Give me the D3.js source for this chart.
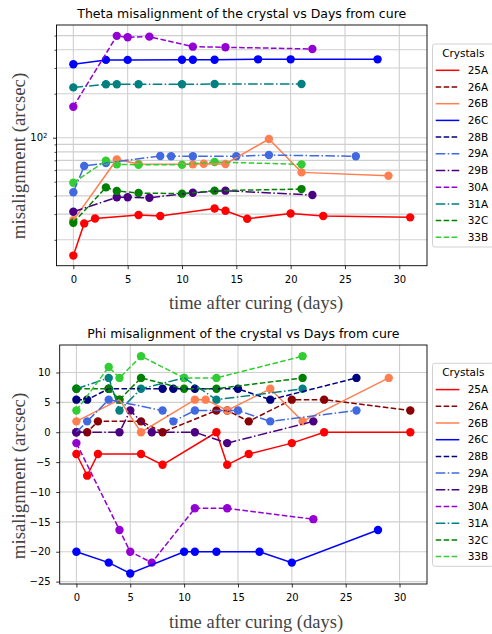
<!DOCTYPE html>
<html>
<head>
<meta charset="utf-8">
<script src="https://cdn.jsdelivr.net/npm/d3@7"></script>
<style>
body { margin: 0; background: #fff; }
svg { display: block; }
</style>
</head>
<body>
<svg id="chart" width="492" height="634"></svg>
<script>
// crystal names, in plotting / legend order
var crystals = ["25A", "26A", "26B", "26C", "28B", "29A", "29B", "30A", "31A", "32C", "33B"];

// theta misalignment (arcsec)
var thetaDays = [
  [0, 1, 2, 6, 8, 13, 14, 16, 20, 23, 31],
  [],
  [0, 4, 6, 11, 12, 14, 18, 21, 29],
  [0, 3, 5, 10, 11, 13, 17, 20, 28],
  [],
  [0, 1, 3, 8, 9, 11, 15, 18, 26],
  [0, 4, 5, 7, 11, 14, 22],
  [0, 4, 5, 7, 11, 14, 22],
  [0, 3, 4, 6, 10, 13, 21],
  [0, 3, 4, 6, 10, 13, 21],
  [0, 3, 4, 6, 10, 13, 21]
];
var thetaValues = [
  [15.6, 25.9, 28.0, 29.6, 29.1, 32.8, 31.6, 27.9, 30.3, 29.1, 28.5],
  [],
  [27.2, 71.0, 66.0, 65.7, 66.4, 66.1, 98.0, 57.9, 54.9],
  [318, 341, 341, 342, 342, 342, 344, 344, 344],
  [],
  [42.3, 64.0, 67.1, 75.0, 74.6, 74.6, 74.6, 76.1, 74.6],
  [31.1, 39.1, 39.1, 38.8, 42.0, 43.4, 40.5],
  [163, 498, 487, 492, 420, 416, 405],
  [221, 232, 232, 232, 232, 233, 233],
  [26.2, 45.7, 43.2, 41.8, 41.4, 43.4, 44.5],
  [49.2, 69.6, 65.7, 65.3, 65.3, 68.2, 65.7]
];

// phi misalignment (arcsec)
var phiDays = [
  [0, 1, 2, 6, 8, 13, 14, 16, 20, 23, 31],
  [0, 1, 2, 6, 8, 13, 14, 16, 20, 23, 31],
  [0, 4, 6, 11, 12, 14, 18, 21, 29],
  [0, 3, 5, 10, 11, 13, 17, 20, 28],
  [0, 1, 3, 8, 9, 11, 15, 18, 26],
  [0, 1, 3, 8, 9, 11, 15, 18, 26],
  [0, 4, 5, 7, 11, 14, 22],
  [0, 4, 5, 7, 11, 14, 22],
  [0, 3, 4, 6, 10, 13, 21],
  [0, 3, 4, 6, 10, 13, 21],
  [0, 3, 4, 6, 10, 13, 21]
];
var phiValues = [
  [-3.64, -7.27, -3.64, -3.64, -5.45, 0, -5.45, -3.64, -1.82, 0, 0],
  [0, 0, 1.82, 1.82, 0, 3.64, 3.64, 1.82, 5.45, 5.45, 3.64],
  [1.82, 5.45, 0, 5.45, 5.45, 3.64, 7.27, 1.82, 9.09],
  [-20, -21.82, -23.64, -20, -20, -20, -20, -21.82, -16.36],
  [5.45, 5.45, 7.27, 7.27, 7.27, 7.27, 7.27, 5.45, 9.09],
  [0, 1.82, 5.45, 3.64, 1.82, 3.64, 3.64, 1.82, 3.64],
  [0, 0, 3.64, 0, 0, -1.82, 1.82],
  [-1.82, -16.36, -20, -21.82, -12.73, -12.73, -14.55],
  [7.27, 9.09, 3.64, 7.27, 9.09, 5.45, 7.27],
  [7.27, 7.27, 5.45, 9.09, 7.27, 7.27, 9.09],
  [3.64, 10.91, 9.09, 12.73, 9.09, 9.09, 12.73]
];

var xTicks = [0, 5, 10, 15, 20, 25, 30];
var thetaMajor = [100];
var thetaMinor = [20, 30, 40, 50, 60, 70, 80, 90, 200, 300, 400, 500];
var phiTicks = [-25, -20, -15, -10, -5, 0, 5, 10];

// styles
var colors = ["red", "darkred", "coral", "blue", "navy", "royalblue", "indigo", "darkviolet", "teal", "green", "limegreen"];
var lineStyles = ["solid", "dashed", "solid", "solid", "dashed", "dashdot", "dashdot", "dashed", "dashdot", "dashed", "dashed"];
var dashes = {solid: null, dashed: "5.55,2.4", dashdot: "9.6,2.4,1.5,2.4"};

var svg = d3.select("#chart");
var sans = "DejaVu Sans, sans-serif";
var serif = "Liberation Serif, Times New Roman, serif";
var gridColor = "#cfcfcf";

function drawPanel(p) {
  var g = svg.append("g");
  var x = d3.scaleLinear().domain([-1.55, 32.55]).range([p.left, p.right]);
  var y = p.y;

  // grid
  g.selectAll(".vg").data(xTicks).enter().append("line")
    .attr("x1", function(d){ return x(d); }).attr("x2", function(d){ return x(d); })
    .attr("y1", p.top).attr("y2", p.bottom)
    .attr("stroke", gridColor).attr("stroke-width", 1.1);
  g.selectAll(".hg").data(p.gridY).enter().append("line")
    .attr("x1", p.left).attr("x2", p.right)
    .attr("y1", function(d){ return y(d); }).attr("y2", function(d){ return y(d); })
    .attr("stroke", gridColor).attr("stroke-width", 1.1);

  // markers first (scatter sits under the lines)
  crystals.forEach(function(c, i) {
    var pts = d3.zip(p.days[i], p.values[i]);
    g.selectAll(".m" + i).data(pts).enter().append("circle")
      .attr("cx", function(d){ return x(d[0]); })
      .attr("cy", function(d){ return y(d[1]); })
      .attr("r", 4.2)
      .attr("fill", colors[i]);
  });

  var line = d3.line().x(function(d){ return x(d[0]); }).y(function(d){ return y(d[1]); });
  crystals.forEach(function(c, i) {
    var pts = d3.zip(p.days[i], p.values[i]);
    if (!pts.length) return;
    g.append("path").datum(pts)
      .attr("d", line)
      .attr("fill", "none")
      .attr("stroke", colors[i])
      .attr("stroke-width", 1.5)
      .attr("stroke-dasharray", dashes[lineStyles[i]]);
  });

  // axes
  var xa = g.append("g").attr("transform", "translate(0," + p.bottom + ")")
    .call(d3.axisBottom(x).tickValues(xTicks).tickSize(3.5).tickPadding(6.4).tickFormat(d3.format("d")));
  var ya = g.append("g").attr("transform", "translate(" + p.left + ",0)")
    .call(d3.axisLeft(y).tickValues(p.yTicks).tickSize(3.5).tickPadding(5.5).tickFormat(p.yFormat));
  if (p.yMinor) {
    g.append("g").attr("transform", "translate(" + p.left + ",0)")
      .call(d3.axisLeft(y).tickValues(p.yMinor).tickSize(2).tickFormat(""))
      .call(function(s){ s.select(".domain").remove(); s.selectAll("line").attr("stroke", "#000").attr("stroke-width", 0.7); });
  }
  [xa, ya].forEach(function(a) {
    a.select(".domain").remove();
    a.selectAll("line").attr("stroke", "#000").attr("stroke-width", 0.8);
    a.selectAll("text").attr("font-family", sans).attr("font-size", 10).attr("fill", "#000");
  });
  if (p.logLabels) {
    ya.selectAll(".tick text").text("10").append("tspan")
      .attr("dy", "-0.45em").attr("font-size", 7).text("2");
  }

  // frame
  g.append("rect").attr("x", p.left).attr("y", p.top)
    .attr("width", p.right - p.left).attr("height", p.bottom - p.top)
    .attr("fill", "none").attr("stroke", "#000").attr("stroke-width", 0.9);

  // title and labels
  g.append("text").attr("x", (p.left + p.right) / 2).attr("y", p.titleY)
    .attr("text-anchor", "middle").attr("font-family", sans).attr("font-size", 12.5)
    .text(p.title);
  g.append("text").attr("x", 256).attr("y", p.bottom + 43.5)
    .attr("text-anchor", "middle").attr("font-family", serif).attr("font-size", 18.5)
    .attr("fill", "#444").text("time after curing (days)");
  g.append("text").attr("transform", "translate(25," + p.yLabelY + ") rotate(-90)")
    .attr("text-anchor", "middle").attr("font-family", serif).attr("font-size", 18.8)
    .attr("fill", "#444").text("misalignment (arcsec)");

  // legend
  var lg = g.append("g").attr("transform", "translate(432.5," + p.legendTop + ")");
  lg.append("rect").attr("x", 0).attr("y", 0).attr("width", 61.5).attr("height", 203)
    .attr("rx", 2.5).attr("fill", "#fff").attr("fill-opacity", 0.8)
    .attr("stroke", "#cccccc").attr("stroke-width", 0.9);
  lg.append("text").attr("x", 30.8).attr("y", 9.3).attr("dy", "0.35em")
    .attr("text-anchor", "middle").attr("font-family", sans).attr("font-size", 10.5)
    .text("Crystals");
  crystals.forEach(function(c, i) {
    var yy = 26.3 + i * 16.7;
    lg.append("line").attr("x1", 3.2).attr("x2", 26.8).attr("y1", yy).attr("y2", yy)
      .attr("stroke", colors[i]).attr("stroke-width", 1.5)
      .attr("stroke-dasharray", dashes[lineStyles[i]]);
    lg.append("text").attr("x", 35.2).attr("y", yy).attr("dy", "0.35em")
      .attr("font-family", sans).attr("font-size", 10.5).text(c);
  });
}

drawPanel({
  left: 56.5, right: 427, top: 25, bottom: 265.7,
  y: d3.scaleLog().domain([13.3, 591]).range([265.7, 25]),
  yTicks: thetaMajor, yMinor: thetaMinor, yFormat: function(){ return ""; },
  gridY: thetaMajor.concat(thetaMinor), logLabels: true,
  days: thetaDays, values: thetaValues,
  title: "Theta misalignment of the crystal vs Days from cure", titleY: 18,
  yLabelY: 156, legendTop: 44
});

drawPanel({
  left: 59.7, right: 427, top: 345, bottom: 584,
  y: d3.scaleLinear().domain([-25.4, 14.6]).range([584, 345]),
  yTicks: phiTicks, yMinor: null, yFormat: d3.format("d"),
  gridY: phiTicks, logLabels: false,
  days: phiDays, values: phiValues,
  title: "Phi misalignment of the crystal vs Days from cure", titleY: 338,
  yLabelY: 476, legendTop: 363.3
});
</script>
</body>
</html>
